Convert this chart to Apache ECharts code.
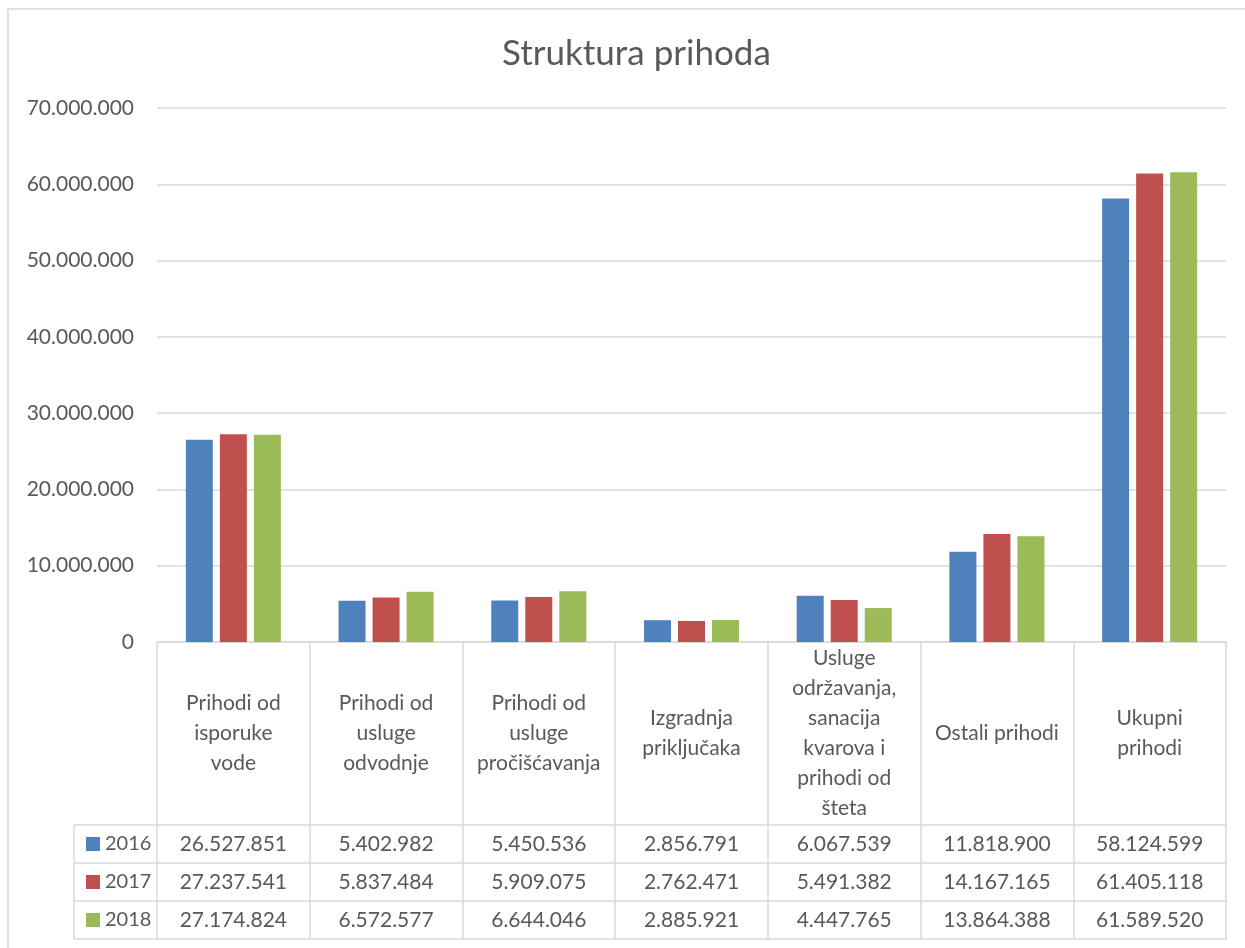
<!DOCTYPE html>
<html>
<head>
<meta charset="utf-8">
<title>Struktura prihoda</title>
<script src="https://cdn.jsdelivr.net/npm/echarts@6/dist/echarts.min.js"></script>
<style>
    html, body { margin: 0; padding: 0; background: #fff; }
    #chart { width: 1245px; height: 948px; }
</style>
</head>
<body>
<div id="chart"></div>
<script>
const categories = [
    'Prihodi od\nisporuke\nvode',
    'Prihodi od\nusluge\nodvodnje',
    'Prihodi od\nusluge\npročišćavanja',
    'Izgradnja\npriključaka',
    'Usluge\nodržavanja,\nsanacija\nkvarova i\nprihodi od\nšteta',
    'Ostali prihodi',
    'Ukupni\nprihodi'
]
const years = ['2016', '2017', '2018']
const values2016 = [26527851, 5402982, 5450536, 2856791, 6067539, 11818900, 58124599]
const values2017 = [27237541, 5837484, 5909075, 2762471, 5491382, 14167165, 61405118]
const values2018 = [27174824, 6572577, 6644046, 2885921, 4447765, 13864388, 61589520]
const yTicks = [0, 10000000, 20000000, 30000000, 40000000, 50000000, 60000000, 70000000]

const colors = ['#4F81BD', '#C0504D', '#9BBB59']
const textColor = '#595959'
const lineColor = '#d9d9d9'
const font = 'Lato'

// layout of plot + data table
const gridLeft = 157
const gridRight = 1226
const gridTop = 108
const gridBottom = 642
const headerH = 183
const rowH = 38
const tableLeft = 74

const fmt = (v) => String(v).replace(/\B(?=(\d{3})+(?!\d))/g, '.')

const rows = [values2016, values2017, values2018]

const myChart = echarts.init(document.getElementById('chart'))

// one category axis per table row, stacked below the plot
const xAxes = [{
    type: 'category',
    data: categories,
    position: 'bottom',
    axisLine: { onZero: false, lineStyle: { color: lineColor, width: 1.5 } },
    axisTick: { show: true, length: headerH, lineStyle: { color: lineColor, width: 1.5 } },
    axisLabel: {
        interval: 0, margin: headerH / 2, verticalAlign: 'middle', align: 'center',
        lineHeight: 30, fontSize: 21, fontFamily: font, color: textColor
    }
}]
rows.forEach((row, r) => {
    xAxes.push({
        type: 'category',
        data: categories,
        position: 'bottom',
        offset: headerH + r * rowH,
        axisLine: { onZero: false, lineStyle: { color: lineColor, width: 1.5 } },
        axisTick: { show: true, length: rowH, lineStyle: { color: lineColor, width: 1.5 } },
        axisLabel: {
            interval: 0, margin: rowH / 2, verticalAlign: 'middle', align: 'center',
            fontSize: 21, fontFamily: font, color: textColor,
            formatter: (v, i) => fmt(row[i])
        }
    })
})
xAxes.push({
    type: 'category',
    data: categories,
    position: 'bottom',
    offset: headerH + rows.length * rowH,
    axisLine: { onZero: false, lineStyle: { color: lineColor, width: 1.5 } },
    axisTick: { show: false },
    axisLabel: { show: false }
})

// legend column lines left of the table
const legendLines = [{
    type: 'line',
    shape: { x1: tableLeft, y1: gridBottom + headerH, x2: tableLeft, y2: gridBottom + headerH + rows.length * rowH },
    style: { stroke: lineColor, lineWidth: 1.5 }
}]
for (let r = 0; r <= rows.length; r++) {
    const y = gridBottom + headerH + r * rowH
    legendLines.push({
        type: 'line',
        shape: { x1: tableLeft, y1: y, x2: gridLeft, y2: y },
        style: { stroke: lineColor, lineWidth: 1.5 }
    })
}

const option = {
    animation: false,
    color: colors,
    title: {
        text: 'Struktura prihoda',
        left: 497,
        top: 31,
        textStyle: { fontFamily: font, fontSize: 35, fontWeight: 'normal', color: textColor }
    },
    legend: {
        orient: 'vertical',
        left: 81,
        top: gridBottom + headerH + 4,
        data: years,
        icon: 'rect',
        itemWidth: 14,
        itemHeight: 14,
        itemGap: rowH - 20,
        itemStyle: { borderWidth: 0 },
        textStyle: { fontFamily: font, fontSize: 20, lineHeight: 20, color: textColor }
    },
    grid: {
        left: gridLeft,
        right: 1245 - gridRight,
        top: gridTop,
        bottom: 948 - gridBottom,
        outerBoundsMode: 'none'
    },
    xAxis: xAxes,
    yAxis: {
        type: 'value',
        min: 0,
        max: yTicks[yTicks.length - 1],
        interval: yTicks[1] - yTicks[0],
        axisLine: { show: false },
        axisTick: { show: false },
        axisLabel: { margin: 23, fontSize: 21, fontFamily: font, color: textColor, formatter: fmt },
        splitLine: { lineStyle: { color: lineColor, width: 1.5 } }
    },
    series: years.map((y, i) => ({
        name: y,
        type: 'bar',
        xAxisIndex: 0,
        barWidth: 27,
        barGap: '26%',
        itemStyle: { color: colors[i] },
        data: rows[i]
    })),
    graphic: [
        {
            type: 'rect',
            shape: { x: 8, y: 9, width: 1260, height: 960 },
            style: { fill: 'none', stroke: lineColor, lineWidth: 1.5 },
            silent: true
        },
        ...legendLines
    ]
}

myChart.setOption(option)
</script>
</body>
</html>
